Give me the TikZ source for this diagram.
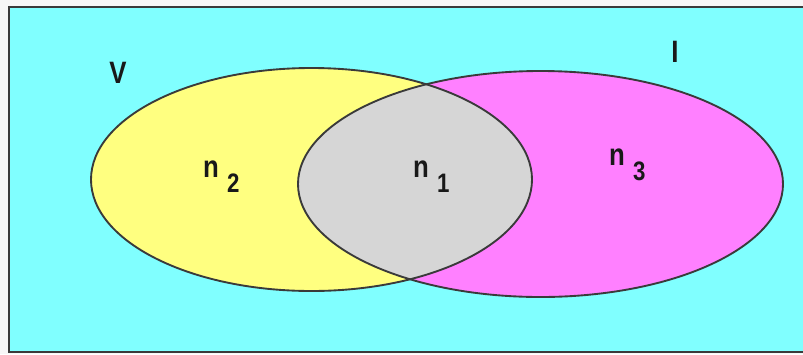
\documentclass[tikz,border=0pt]{standalone}
\usepackage{fontspec}
\setmainfont{Liberation Sans}
\usepackage{tikz}
\usetikzlibrary{positioning}
\definecolor{sky}{HTML}{80FFFF}
\definecolor{lemon}{HTML}{FFFF80}
\definecolor{pinkset}{HTML}{FF80FF}
\definecolor{overlap}{HTML}{D6D6D6}
\definecolor{edge}{HTML}{3A3A3A}
\newcommand{\lowsub}[1]{\kern0.32em\raisebox{-0.5em}{\fontsize{19pt}{19pt}\selectfont #1}}
\newcommand{\tall}[1]{\scalebox{1}[1.2]{#1}}

\begin{document}
\begin{tikzpicture}[x=0.03cm, y=-0.03cm,
    outline/.style={draw=edge, line width=1.6pt},
    setlabel/.style={font=\bfseries\fontsize{22pt}{22pt}\selectfont, inner sep=0pt, text=black!90}]
    \useasboundingbox (0,0) rectangle (803,354);
    \clip (0,0) rectangle (803,354);
    \fill[white!94!gray] (0,0) rectangle (803,354);
    \draw[outline, fill=sky] (9,7) rectangle (812,352);

    % the two sets
    \fill[lemon] (311.5,179.5) ellipse [x radius=220.5, y radius=111.5];
    \fill[pinkset] (540.5,184) ellipse [x radius=242.5, y radius=113];
    \begin{scope}
        \clip (311.5,179.5) ellipse [x radius=220.5, y radius=111.5];
        \fill[overlap] (540.5,184) ellipse [x radius=242.5, y radius=113];
    \end{scope}
    \draw[outline] (311.5,179.5) ellipse [x radius=220.5, y radius=111.5];
    \draw[outline] (540.5,184) ellipse [x radius=242.5, y radius=113];

    \node[setlabel, anchor=base] (vset) at (118,83) {\tall{V}};
    \node[setlabel, anchor=base] (iset) at (675,62) {\tall{I}};
    \node[setlabel, anchor=base west] (nleft) at (203,177) {\tall{n\lowsub{2}}};
    \node[setlabel, anchor=base west] (nmid) at (413,177) {\tall{n\lowsub{1}}};
    \node[setlabel, anchor=base west] (nright) at (609,165) {\tall{n\lowsub{3}}};
\end{tikzpicture}
\end{document}
